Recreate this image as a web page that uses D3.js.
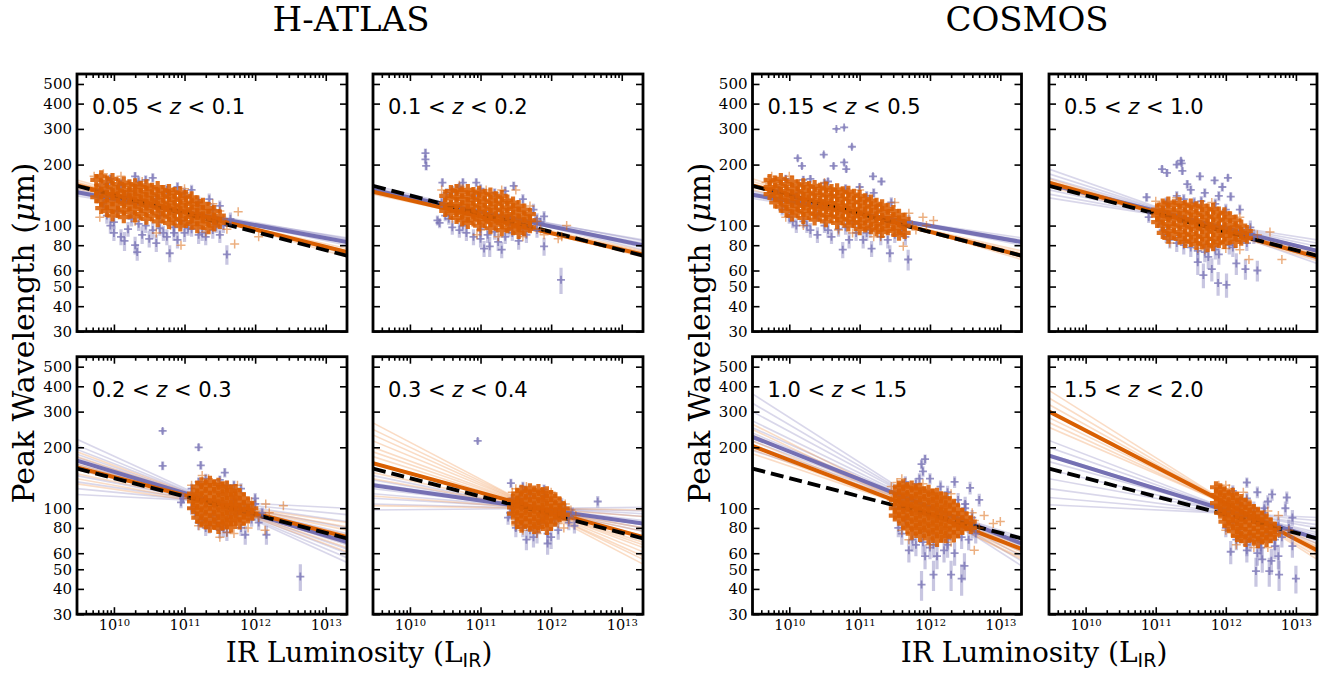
<!DOCTYPE html>
<html><head><meta charset="utf-8">
<script src="https://cdn.jsdelivr.net/npm/d3@7"></script>
<style>body{margin:0;background:#fff}</style>
</head><body><svg id="c" width="1334" height="673"></svg>
<script>
// ---------- data ----------
const groupTitles = ["H-ATLAS", "COSMOS"];
const panelLabels = [["0.05","0.1"],["0.1","0.2"],["0.2","0.3"],["0.3","0.4"],["0.15","0.5"],["0.5","1.0"],["1.0","1.5"],["1.5","2.0"]];
const xTickValues = [1e10, 1e11, 1e12, 1e13];
const yTickValues = [30, 40, 50, 60, 80, 100, 200, 300, 400, 500];
const xLimits = [3e9, 2e13];
const yLimits = [30, 560];

// lambda at the left and right x-limits
const dashedFit = [157, 71];
const fitOrange = [[158,74],[147,72],[159,72],[167,72],[158,71],[163,70],[203,63],[300,62]];
const fitPurple = [[146,83],[150,80],[172,68],[130,84],[142,83],[160,75],[225,67],[182,71]];
const samplesOrange = [
 [[168,70],[164,72],[160,73],[156,75],[152,77],[162,74]],
 [[152,70],[149,71],[146,73],[143,74],[147,75]],
 [[190,61],[180,64],[172,67],[165,70],[155,74],[148,78],[140,81],[132,85]],
 [[264,53],[245,56],[230,58],[215,61],[200,64],[190,66],[180,68],[165,72],[150,77],[140,80],[130,84],[115,91],[103,98]],
 [[170,68],[165,70],[160,71],[155,73],[150,75]],
 [[170,67],[166,69],[162,70],[158,72],[155,73]],
 [[260,56],[245,57],[230,59],[215,61],[203,63],[195,64],[186,66]],
 [[382,56],[350,58],[325,60],[300,62],[280,64],[265,65],[251,67]]
];
const samplesPurple = [
 [[152,80],[149,82],[146,83],[143,85],[140,87],[148,86]],
 [[158,76],[154,78],[150,80],[146,82],[144,85],[150,84]],
 [[219,54],[205,57],[195,60],[185,63],[178,66],[165,71],[155,75],[145,80],[135,86],[125,93],[117,100]],
 [[145,77],[138,80],[133,83],[125,87],[118,91],[112,94],[105,97],[98,101]],
 [[148,80],[145,82],[142,84],[139,85],[136,87]],
 [[190,65],[180,68],[172,71],[165,74],[158,76],[150,79],[143,82],[137,85]],
 [[367,52],[330,55],[300,58],[270,61],[250,63],[235,65],[225,67],[215,68],[205,70],[193,72]],
 [[216,67],[200,69],[185,71],[170,74],[155,76],[140,80],[125,83],[113,87],[104,90]]
];

// orange points: columns [log10 L, [lambda...]] plus outliers [log10 L, lambda]
const orangeCore1 = [[9.75,[168,150,138]],[9.82,[175,158,145,132,122]],[9.9,[165,152,140,128,118]],[9.98,[170,155,143,133,122,112]],[10.06,[160,148,138,128,117]],[10.14,[163,150,140,130,120,110]],[10.22,[158,146,136,126,116]],[10.3,[160,150,140,130,121,111]],[10.38,[155,143,133,124,114]],[10.46,[158,147,137,127,118,108]],[10.54,[152,141,131,122,112]],[10.62,[155,144,134,124,115,105]],[10.7,[148,138,128,119,110]],[10.78,[150,140,130,120,112,103]],[10.86,[145,134,125,116,107]],[10.94,[146,136,126,117,108,100]],[11.02,[140,130,121,112,104]],[11.1,[138,128,119,110,102]],[11.18,[132,123,114,106,98]],[11.26,[128,118,110,102]],[11.34,[122,113,105,97]],[11.42,[118,108,100]],[11.5,[112,103]]];
const orangeOut1 = [[11.76,117],[11.71,81],[10.95,80],[11.5,118],[12.05,88],[9.72,175],[9.85,180],[10.6,92],[11.3,93],[11.6,96],[9.8,110],[10.1,175],[10.4,165],[11.0,152],[11.4,128],[11.55,108],[10.3,105],[10.8,100]];
const orangeCore2 = [[10.5,[140,128,118]],[10.58,[148,136,125,115]],[10.66,[150,139,128,118,109]],[10.74,[146,135,125,115,106]],[10.82,[150,139,129,120,111,103]],[10.9,[145,134,124,115,106]],[10.98,[147,136,126,117,108,100]],[11.06,[142,131,121,112,104]],[11.14,[144,133,123,114,105,97]],[11.22,[138,128,119,110,101]],[11.3,[140,130,120,111,103,95]],[11.38,[133,123,114,106,98]],[11.46,[130,121,112,104,96]],[11.54,[125,116,107,99,92]],[11.62,[120,111,103,95]],[11.7,[114,106,98]]];
const orangeOut2 = [[12.22,100],[12.1,86],[11.9,90],[11.37,135],[11.08,150],[12.15,88],[11.85,96],[10.95,90],[11.25,88],[11.5,150],[10.45,150],[10.7,158],[11.3,150],[11.7,125],[11.8,105],[10.6,108],[11.0,95],[11.6,88]];
const orangeCore3 = [[11.12,[118,108,100]],[11.18,[128,117,107,98,90]],[11.24,[133,122,112,102,94,86]],[11.3,[130,119,109,100,92,84]],[11.36,[135,124,113,104,96,88,81]],[11.42,[130,119,109,100,92,84]],[11.48,[132,121,111,102,94,86,80]],[11.54,[127,116,106,98,90,83]],[11.6,[128,117,107,99,91,84]],[11.66,[122,112,103,95,87,81]],[11.72,[123,113,104,96,88]],[11.78,[117,107,99,91,84]],[11.84,[112,103,95,88]],[11.9,[106,98,90]],[11.96,[100,93]]];
const orangeOut3 = [[12.15,105],[12.4,103],[12.14,78],[11.5,72],[11.34,140],[12.05,90],[11.9,80],[12.2,95],[11.05,112],[11.7,75],[11.1,130],[11.25,145],[11.75,130],[11.95,108],[11.2,82],[11.6,76],[12.0,96]];
const orangeCore4 = [[11.46,[110,101,94]],[11.52,[118,108,100,92,85]],[11.58,[122,112,103,95,88,81]],[11.64,[120,110,101,93,86]],[11.7,[124,114,105,97,89,82]],[11.76,[121,111,102,94,87,80]],[11.82,[123,113,104,96,88,81]],[11.88,[119,109,100,92,85]],[11.94,[120,110,101,93,86,79]],[12.0,[115,106,98,90,83]],[12.06,[112,103,95,88]],[12.12,[106,98,91]],[12.18,[100,93]]];
const orangeOut4 = [[12.18,80],[12.35,92],[12.28,98],[11.5,125],[12.1,84],[11.6,78],[12.25,88],[11.45,120],[11.65,128],[12.0,120],[12.2,105],[11.5,82],[11.8,75],[12.1,90]];
const orangeCore5 = [[9.72,[168,155,143]],[9.8,[165,152,140,130]],[9.88,[170,157,145,134,124]],[9.96,[160,148,137,127,118]],[10.04,[165,152,141,131,121,112]],[10.12,[158,146,135,125,116]],[10.2,[160,148,137,127,118,109]],[10.28,[155,143,133,123,114]],[10.36,[157,145,134,124,115,107]],[10.44,[152,141,131,121,112]],[10.52,[154,142,132,122,113,105]],[10.6,[150,139,129,119,110]],[10.68,[151,140,129,120,111,103]],[10.76,[146,135,125,116,107]],[10.84,[147,136,126,117,108,100]],[10.92,[142,131,121,112,104]],[11.0,[140,130,120,111,103,96]],[11.08,[135,125,116,107,99]],[11.16,[133,123,114,105,97]],[11.24,[128,119,110,102,95]],[11.32,[126,117,108,100,93]],[11.4,[121,112,104,96]],[11.48,[118,109,101,94]],[11.56,[113,105,97,90]],[11.64,[108,100,92]]];
const orangeOut5 = [[9.67,163],[12.05,106],[11.9,110],[11.62,79],[11.8,95],[11.7,115],[9.75,175],[10.9,92],[11.2,88],[9.95,110],[11.95,100],[9.7,150],[10.0,175],[10.5,163],[11.0,150],[11.5,130],[11.75,100],[10.2,100],[10.7,95],[11.3,88]];
const orangeCore6 = [[11.02,[120,112,104]],[11.1,[127,117,108,100,92]],[11.18,[130,120,111,102,94,87]],[11.26,[126,116,107,99,91]],[11.34,[129,119,110,101,93,86]],[11.42,[125,115,106,98,90,83]],[11.5,[127,117,108,99,91,84]],[11.58,[123,113,104,96,88,81]],[11.66,[125,115,106,97,89,82]],[11.74,[120,110,101,93,86,79]],[11.82,[121,111,102,94,86,80]],[11.9,[116,107,98,90,83]],[11.98,[115,106,97,89,82]],[12.06,[110,101,93,86]],[12.14,[106,98,90,83]],[12.22,[100,92,85]],[12.3,[94,87]]];
const orangeOut6 = [[12.8,68],[12.63,93],[12.33,68],[11.0,132],[12.45,90],[12.2,76],[11.7,76],[11.05,125],[11.3,137],[11.8,130],[12.2,110],[12.35,95],[11.2,82],[11.6,77],[12.0,77]];
const orangeCore7 = [[11.5,[120,110,100,92]],[11.56,[128,117,107,98,90]],[11.62,[130,119,109,100,92,84]],[11.68,[126,115,105,96,88,80]],[11.74,[128,117,107,98,90,82,75]],[11.8,[124,113,103,94,86,79]],[11.86,[125,114,104,95,87,80,73]],[11.92,[120,110,100,92,84,77]],[11.98,[122,111,101,93,85,78,71]],[12.04,[117,107,98,90,82,75]],[12.1,[118,108,99,90,83,76,69]],[12.16,[113,103,95,87,80,73]],[12.22,[112,102,94,86,79,72]],[12.28,[107,98,90,82,76]],[12.34,[104,95,87,80,73]],[12.4,[98,90,83,76]],[12.46,[94,86,79]],[12.52,[90,83]],[12.58,[86,80]]];
const orangeOut7 = [[11.53,134],[12.63,87],[13.0,86],[12.77,92],[12.63,62],[11.45,128],[12.7,80],[11.7,70],[12.9,84],[11.45,110],[11.6,140],[11.9,132],[12.3,118],[12.6,95],[11.6,78],[12.0,66],[12.3,68]];
const orangeCore8 = [[11.86,[127,116,106]],[11.92,[124,113,103,95]],[11.98,[120,110,101,93,86]],[12.04,[116,106,97,89,82]],[12.1,[118,108,99,91,84,77]],[12.16,[112,103,95,87,80,73]],[12.22,[110,101,93,86,79,72]],[12.28,[105,97,89,82,75,69]],[12.34,[102,94,86,79,73]],[12.4,[98,90,83,76,70]],[12.46,[95,87,80,74,68]],[12.52,[91,84,77,71]],[12.58,[88,81,75,69]],[12.64,[84,78,72]],[12.7,[80,74]]];
const orangeOut8 = [[11.9,130],[11.95,122],[12.05,125],[12.15,66],[12.6,64],[12.9,78],[12.75,92],[12.3,110],[11.85,118],[12.0,130],[12.25,120],[12.6,97],[12.75,75],[12.0,78],[12.4,64]];

// purple points: [log10 L, lambda, error]
const purple1 = [[9.8,150,10],[9.85,128,9],[9.9,112,10],[9.95,100,9],[10.0,92,8],[10.05,118,9],[10.1,88,8],[10.15,84,9],[10.2,96,8],[10.25,108,9],[10.3,80,8],[10.33,74,7],[10.4,90,9],[10.45,100,8],[10.5,86,8],[10.55,95,9],[10.6,82,8],[10.65,112,9],[10.7,92,8],[10.75,88,8],[10.79,73,7],[10.85,98,9],[10.9,85,8],[10.95,105,9],[11.0,92,9],[11.1,96,8],[11.2,90,9],[11.3,88,8],[11.4,95,9],[11.5,90,8],[11.6,72,8],[11.55,100,8],[10.1,160,10],[10.35,165,10],[10.55,172,9],[10.75,150,10],[11.0,145,9],[11.2,130,9],[9.9,160,10],[10.2,140,9],[10.6,135,9],[11.4,120,9],[11.65,108,8],[9.78,138,9],[9.95,170,9],[10.3,175,9],[10.45,168,9],[10.9,155,9],[11.1,150,9],[11.35,135,9],[11.5,125,8],[10.0,104,8],[10.35,102,8],[10.65,97,8],[11.05,97,8],[11.25,92,8],[11.45,100,8],[10.85,92,8]];
const purple2 = [[10.22,228,12],[10.22,212,10],[10.23,197,10],[10.46,163,8],[10.75,163,8],[10.94,163,8],[11.47,157,8],[10.39,106,6],[10.42,103,6],[10.5,112,7],[10.6,98,8],[10.7,95,8],[10.8,92,8],[10.9,88,8],[11.0,86,8],[11.13,79,9],[11.1,90,8],[11.2,93,8],[11.25,83,8],[11.35,88,7],[11.45,92,8],[11.54,84,8],[11.6,96,8],[11.7,100,7],[11.8,95,8],[11.9,79,8],[11.9,111,7],[11.85,104,6],[12.14,54,8],[10.9,140,8],[11.2,145,8],[10.6,150,7],[11.05,77,7],[11.3,76,7],[10.45,130,8],[10.52,145,8],[10.7,155,8],[11.0,152,8],[11.35,148,8],[11.6,135,8],[11.75,120,8],[11.8,108,7],[10.55,108,7],[10.75,100,8],[11.0,96,8],[11.4,96,8],[11.65,90,8],[11.78,105,7]];
const purple3 = [[10.69,241,8],[11.2,200,8],[10.69,162,8],[11.23,163,8],[11.57,150,8],[10.95,107,7],[10.98,112,7],[11.86,74,8],[12.16,74,8],[12.64,46,7],[11.15,95,7],[11.25,88,7],[11.35,82,7],[11.45,85,7],[11.55,80,8],[11.65,92,7],[11.75,95,7],[11.85,100,6],[11.95,98,7],[12.0,105,6],[12.05,85,7],[11.8,125,8],[11.6,130,7],[11.3,140,8],[11.1,125,7],[11.4,92,7],[11.7,110,7],[11.5,78,7],[12.1,95,6],[11.1,100,7],[11.2,85,7],[11.3,80,7],[11.6,76,7],[11.8,80,7],[11.95,88,7],[12.0,112,7],[11.5,138,7],[11.7,130,7],[11.2,135,7]];
const purple4 = [[10.96,215,7],[11.43,133,7],[12.66,108,7],[11.39,90,7],[11.45,100,6],[11.42,95,7],[11.95,75,8],[11.95,67,8],[12.0,72,9],[12.33,82,7],[11.5,85,8],[11.6,80,8],[11.7,78,8],[11.8,76,9],[11.85,85,8],[11.9,90,8],[12.05,88,7],[12.15,94,6],[12.2,100,6],[12.3,95,6],[11.55,112,7],[11.7,118,7],[11.9,115,7],[12.25,85,7],[11.65,70,8],[11.45,112,7],[11.5,80,8],[11.75,72,8],[12.1,78,8],[12.15,105,7],[11.6,128,7],[11.9,124,7],[12.25,92,7]];
const purple5 = [[10.67,300,6],[10.78,305,6],[10.89,245,7],[10.49,224,7],[10.12,215,7],[10.18,197,7],[10.63,197,7],[10.78,205,7],[10.81,190,7],[11.19,175,7],[11.31,165,7],[10.76,76,7],[11.17,77,7],[11.43,73,7],[11.69,68,8],[9.9,120,8],[10.0,110,8],[10.1,100,8],[10.2,105,8],[10.3,95,8],[10.4,90,8],[10.5,100,8],[10.6,88,7],[10.7,96,8],[10.85,85,8],[10.95,92,8],[11.05,85,8],[11.15,95,8],[11.3,88,8],[11.5,90,8],[11.6,95,7],[10.3,170,7],[10.55,165,7],[11.0,155,7],[9.85,150,7],[10.1,140,7],[11.1,140,8],[10.4,112,8],[10.9,105,8],[9.75,140,8],[9.95,170,8],[10.2,168,8],[10.5,162,8],[10.8,152,8],[11.2,145,8],[11.45,130,8],[11.7,105,8],[10.05,105,8],[10.25,100,8],[10.55,95,8],[10.8,98,8],[11.1,92,8],[11.4,85,8],[11.65,88,8]];
const purple6 = [[11.36,209,8],[11.37,203,8],[11.3,200,8],[11.09,190,8],[11.16,182,8],[11.38,186,8],[11.63,175,8],[11.84,167,7],[12.03,172,7],[12.07,139,7],[10.87,138,7],[10.9,110,7],[11.89,52,7],[12.01,51,7],[11.8,61,8],[11.68,57,8],[12.28,61,7],[12.45,60,7],[11.5,150,8],[11.7,145,8],[11.9,140,8],[11.3,140,8],[11.55,130,8],[12.2,120,7],[11.2,85,8],[11.4,80,8],[11.6,75,9],[11.75,70,9],[11.9,72,8],[12.1,78,8],[12.3,82,7],[11.1,95,8],[12.4,88,7],[11.45,160,8],[11.95,155,8],[11.6,66,9],[12.15,65,8],[11.05,105,8],[11.15,90,8],[11.3,82,8],[11.5,78,8],[11.7,74,8],[11.85,76,8],[12.05,80,8],[12.25,90,8],[12.35,98,8],[11.15,130,8],[11.4,135,8],[11.65,132,8],[11.85,128,8],[12.0,120,8]];
const purple7 = [[11.93,175,9],[11.88,165,9],[11.9,152,9],[11.85,140,9],[12.57,126,9],[12.35,135,9],[11.88,42,7],[12.05,47,8],[12.3,47,8],[12.45,45,8],[11.93,58,8],[12.1,58,8],[12.49,52,8],[11.7,62,8],[11.8,66,8],[12.0,64,8],[12.2,62,8],[12.35,60,8],[12.55,70,8],[12.65,75,8],[11.55,80,8],[11.65,88,9],[12.15,128,9],[12.0,140,9],[12.4,110,9],[12.5,100,9],[12.6,90,8],[11.6,110,9],[12.25,70,8],[12.7,110,8],[11.5,100,9],[11.6,75,9],[11.75,70,9],[11.9,68,9],[12.05,66,9],[12.25,66,9],[12.45,72,9],[12.6,80,9],[11.65,135,9],[11.8,132,9],[12.25,120,9],[12.5,105,9]];
const purple8 = [[12.3,134,8],[12.87,113,8],[12.66,117,8],[13.0,45,7],[12.76,47,8],[12.62,49,8],[12.43,49,8],[12.07,61,8],[12.52,56,8],[12.75,58,8],[12.2,75,8],[12.35,70,9],[12.5,68,9],[12.6,75,8],[12.7,65,9],[12.8,72,8],[12.9,80,8],[12.95,90,8],[12.4,100,8],[12.55,95,8],[12.85,100,8],[12.2,105,8],[12.0,95,8],[12.1,85,8],[12.45,60,8],[12.3,62,8],[12.65,55,8],[12.95,65,8],[12.6,108,8],[12.45,120,8],[11.9,100,8],[12.0,80,8],[12.15,70,8],[12.3,66,8],[12.5,64,8],[12.7,70,8],[12.75,82,8],[12.3,112,8],[12.1,122,8],[12.55,100,8]];

const orangeCores = [orangeCore1,orangeCore2,orangeCore3,orangeCore4,orangeCore5,orangeCore6,orangeCore7,orangeCore8];
const orangeOuts = [orangeOut1,orangeOut2,orangeOut3,orangeOut4,orangeOut5,orangeOut6,orangeOut7,orangeOut8];
const purples = [purple1,purple2,purple3,purple4,purple5,purple6,purple7,purple8];

// ---------- layout ----------
const colLeft = [77, 373, 752.5, 1049];
const colWidth = [270, 270, 269, 268];
const rowTop = [74, 356.7];
const panelH = 257.5;
const panelCol = [0,1,0,1,2,3,2,3];
const panelRow = [0,0,1,1,0,0,1,1];
const ORANGE = "#d95f02", PURPLE = "#7570b3";
const SERIF = "DejaVu Serif", SANS = "DejaVu Sans";

const svg = d3.select("#c");
const plus = (cx, cy, s) => `M${cx-s},${cy}h${2*s}M${cx},${cy-s}v${2*s}`;

for (let i = 0; i < 8; i++) {
  const c = panelCol[i], r = panelRow[i];
  const w = colWidth[c], h = panelH;
  const x = d3.scaleLog().domain(xLimits).range([0, w]);
  const y = d3.scaleLog().domain(yLimits).range([h, 0]);
  const g = svg.append("g").attr("transform", `translate(${colLeft[c]},${rowTop[r]})`);
  const cid = "clip" + i;
  g.append("clipPath").attr("id", cid).append("rect").attr("width", w).attr("height", h);
  const inner = g.append("g").attr("clip-path", `url(#${cid})`);
  const line = d3.line().x(d => x(d[0])).y(d => y(d[1]));
  const seg = s => line([[xLimits[0], s[0]], [xLimits[1], s[1]]]);

  inner.selectAll(".sp").data(samplesPurple[i]).join("path")
    .attr("d", seg).attr("fill", "none").attr("stroke", PURPLE).attr("stroke-width", 1.6).attr("stroke-opacity", 0.28);
  inner.selectAll(".so").data(samplesOrange[i]).join("path")
    .attr("d", seg).attr("fill", "none").attr("stroke", "#f08a40").attr("stroke-width", 1.6).attr("stroke-opacity", 0.3);
  inner.append("path").attr("d", seg(fitPurple[i])).attr("fill", "none").attr("stroke", PURPLE).attr("stroke-width", 4);
  inner.append("path").attr("d", seg(fitOrange[i])).attr("fill", "none").attr("stroke", ORANGE).attr("stroke-width", 4);
  inner.append("path").attr("d", seg(dashedFit)).attr("fill", "none").attr("stroke", "#000").attr("stroke-width", 3.8).attr("stroke-dasharray", "13,6");

  // purple points with error bars
  const pp = purples[i];
  inner.selectAll(".pe").data(pp).join("line")
    .attr("x1", d => x(Math.pow(10, d[0]))).attr("x2", d => x(Math.pow(10, d[0])))
    .attr("y1", d => y(d[1] - d[2])).attr("y2", d => y(d[1] + d[2]))
    .attr("stroke", PURPLE).attr("stroke-width", 3.2).attr("stroke-opacity", 0.4);
  inner.selectAll(".pm").data(pp).join("path")
    .attr("d", d => plus(x(Math.pow(10, d[0])), y(d[1]), 4))
    .attr("stroke", PURPLE).attr("stroke-width", 1.8).attr("stroke-opacity", 0.75).attr("fill", "none");

  // orange points: sparse halo then dense core
  inner.selectAll(".oo").data(orangeOuts[i]).join("path")
    .attr("d", d => plus(x(Math.pow(10, d[0])), y(d[1]), 4.5))
    .attr("stroke", ORANGE).attr("stroke-width", 1.5).attr("stroke-opacity", 0.5).attr("fill", "none");
  const core = [];
  orangeCores[i].forEach(col => col[1].forEach(v => core.push([col[0], v])));
  inner.selectAll(".oc").data(core).join("path")
    .attr("d", d => plus(x(Math.pow(10, d[0])), y(d[1]), 6))
    .attr("stroke", ORANGE).attr("stroke-width", 4.2).attr("stroke-opacity", 0.88).attr("fill", "none");

  // ticks (inward on all four sides)
  const minorX = [];
  for (let e = 9; e <= 13; e++) for (let k = 2; k <= 9; k++) { const v = k * Math.pow(10, e); if (v > xLimits[0] && v < xLimits[1]) minorX.push(v); }
  const styleAxis = (sel) => { sel.select(".domain").remove(); sel.selectAll(".tick line").attr("stroke", "#000").attr("stroke-width", 1.6); };
  const bottomShow = r === 1, leftShow = (c === 0 || c === 2);
  g.append("g").attr("transform", `translate(0,${h})`).call(d3.axisBottom(x).tickValues(minorX).tickSize(-4).tickFormat(() => "")).call(styleAxis);
  g.append("g").call(d3.axisTop(x).tickValues(minorX).tickSize(-4).tickFormat(() => "")).call(styleAxis);
  g.append("g").call(d3.axisTop(x).tickValues(xTickValues).tickSize(-7).tickFormat(() => "")).call(styleAxis);
  const bx = g.append("g").attr("transform", `translate(0,${h})`)
    .call(d3.axisBottom(x).tickValues(xTickValues).tickSize(-7).tickPadding(6).tickFormat(d => bottomShow ? "10" : ""))
    .call(styleAxis);
  if (bottomShow) {
    bx.selectAll(".tick text").attr("font-family", SERIF).attr("font-size", 14.5).attr("fill", "#000")
      .each(function(d) {
        d3.select(this).append("tspan").attr("dy", "-0.45em").attr("font-size", 10).text(Math.round(Math.log10(d)));
      });
  }
  g.append("g").attr("transform", `translate(${w},0)`).call(d3.axisRight(y).tickValues(yTickValues).tickSize(-7).tickFormat(() => "")).call(styleAxis);
  const ly = g.append("g").call(d3.axisLeft(y).tickValues(yTickValues).tickSize(-7).tickPadding(5).tickFormat(d => leftShow ? String(d) : "")).call(styleAxis);
  ly.selectAll(".tick text").attr("font-family", SERIF).attr("font-size", 15).attr("fill", "#000");

  // frame
  g.append("rect").attr("width", w).attr("height", h).attr("fill", "none").attr("stroke", "#000").attr("stroke-width", 2.8);

  // panel label
  const t = g.append("text").attr("x", 15).attr("y", 40).attr("font-family", SANS).attr("font-size", 21).attr("fill", "#000");
  t.append("tspan").text(panelLabels[i][0] + " < ");
  t.append("tspan").attr("font-style", "italic").text("z");
  t.append("tspan").text(" < " + panelLabels[i][1]);
}

// group titles
const titleX = [351, 1027];
groupTitles.forEach((tt, k) => {
  svg.append("text").attr("x", titleX[k]).attr("y", 31).attr("text-anchor", "middle")
    .attr("font-family", SERIF).attr("font-size", 34).attr("fill", "#000").text(tt);
});
// axis labels
const xLabelX = [359, 1034];
const yLabelX = [34, 710];
[0, 1].forEach(k => {
  const xl = svg.append("text").attr("x", xLabelX[k]).attr("y", 662).attr("text-anchor", "middle")
    .attr("font-family", SERIF).attr("font-size", 28).attr("fill", "#000");
  xl.append("tspan").text("IR Luminosity (L");
  xl.append("tspan").attr("font-family", SANS).attr("font-size", 19).attr("dy", 5).text("IR");
  xl.append("tspan").attr("dy", -5).text(")");
  const yl = svg.append("text").attr("transform", `translate(${yLabelX[k]},333) rotate(-90)`).attr("text-anchor", "middle")
    .attr("font-family", SERIF).attr("font-size", 30).attr("fill", "#000");
  yl.append("tspan").text("Peak Wavelength (");
  yl.append("tspan").attr("font-style", "italic").text("μ");
  yl.append("tspan").text("m)");
});
</script>
</body></html>
